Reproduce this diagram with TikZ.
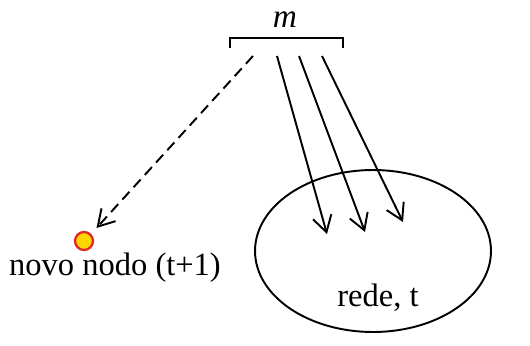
\documentclass[tikz,border=0pt]{standalone}
\usepackage{fontspec}
\setmainfont{Liberation Serif}
\usepackage{tikz}
\usetikzlibrary{arrows.meta,positioning,shapes.geometric,calc}
\definecolor{nodeyellow}{RGB}{255,214,0}
\definecolor{nodered}{RGB}{225,40,40}
\tikzset{
  rede/.style={ellipse, draw=black, line width=1.1pt, minimum width=4.72cm, minimum height=3.24cm, inner sep=0pt},
  newnode/.style={circle, draw=nodered, line width=1.3pt, fill=nodeyellow, minimum size=0.36cm, inner sep=0pt},
  txt/.style={font=\fontsize{18.5}{22}\selectfont, inner sep=0pt},
  arrow/.style={-{Straight Barb[length=3.2mm, width=3.8mm]}, line width=1.1pt},
  arrowdash/.style={arrow, dash pattern=on 6pt off 3.5pt, shorten >=4.5pt},
}

\begin{document}
\begin{tikzpicture}[x=0.02cm, y=-0.02cm]
\useasboundingbox (0,0) rectangle (530,345);
% bracket with the memory size
\node[txt, font=\fontsize{19}{22}\selectfont\itshape] (m) at (285,20) {m};
\coordinate (bl) at (230,38);
\coordinate (br) at (343,38);
\draw[line width=1.3pt] ($(bl)+(0,10)$) -- (bl) -- (br) -- ($(br)+(0,10)$);
% network and new node
\node[rede] (net) at (373,251) {};
\node[txt] (netlbl) at (378,298) {rede, t};
\node[newnode] (novo) at (84,241) {};
\node[txt] (novolbl) at (115,268) {novo nodo (t+1)};
% arrows
\coordinate (s0) at (253,56);
\coordinate (s1) at (277,56);
\coordinate (s2) at (299,56);
\coordinate (s3) at (322,56);
\coordinate (e1) at (327,234);
\coordinate (e2) at (365,232);
\coordinate (e3) at (403,222);
\draw[arrowdash] (s0) -- (novo.north east);
\draw[arrow] (s1) -- (e1);
\draw[arrow] (s2) -- (e2);
\draw[arrow] (s3) -- (e3);
\end{tikzpicture}
\end{document}
